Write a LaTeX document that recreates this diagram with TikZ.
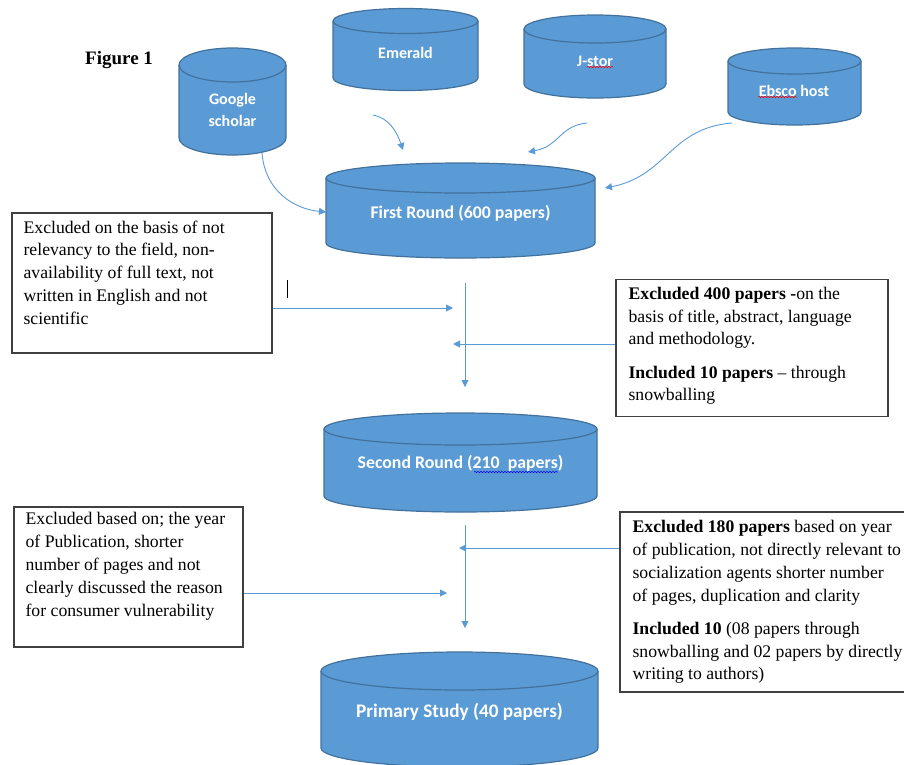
\documentclass[tikz,border=0pt]{standalone}
\usepackage{fontspec}
\setmainfont{Liberation Serif}
\newfontfamily\carlito{Carlito}
\usetikzlibrary{arrows.meta,calc,decorations.pathmorphing}
\definecolor{cylfill}{HTML}{5B9BD5}
\definecolor{cylborder}{HTML}{41719C}
\definecolor{arrowblue}{HTML}{5B9BD5}
\definecolor{boxline}{HTML}{404040}
\newcommand\dbcyl[6]{%
  \path[fill=cylfill,draw=cylborder,line width=1.2pt] (#2-#5,-#3) -- (#2-#5,-#4)
    arc[start angle=180,end angle=360,x radius=#5,y radius=#6] -- (#2+#5,-#3)
    arc[start angle=0,end angle=180,x radius=#5,y radius=#6] -- cycle;
  \draw[draw=cylborder,line width=1.2pt] (#2-#5,-#3) arc[start angle=180,end angle=360,x radius=#5,y radius=#6];
  \node[cylnode,minimum width={2*(#5)},minimum height={#4-#3+2*(#6)}] (#1) at (#2,{-(#3+#4)/2}) {};
}
\begin{document}
\begin{tikzpicture}[x=1pt,y=1pt,
  cylnode/.style={inner sep=0pt,outer sep=0pt,draw=none,rectangle},
  cyltxt/.style={text=white,font=\carlito\bfseries\fontsize{16}{22}\selectfont,align=center,inner sep=0pt},
  cylbig/.style={cyltxt,font=\carlito\bfseries\fontsize{17.8}{22}\selectfont},
  boxnode/.style={draw=boxline,line width=1.2pt,fill=white,inner sep=0pt,rectangle},
  boxtxt/.style={anchor=north west,inner sep=0pt,align=left,font=\rmfamily\fontsize{17.7}{22.8}\selectfont},
  arr/.style={draw=arrowblue,line width=0.9pt,-{Triangle[length=7pt,width=7pt]}},
  spell/.style={decorate,decoration={snake,segment length=3pt,amplitude=0.7pt},line width=0.5pt}
]
\useasboundingbox (0,0) rectangle (904,-764);

% Figure label
\node[anchor=west,inner sep=0pt,font=\rmfamily\bfseries\fontsize{19}{22}\selectfont] (fig) at (85,-60) {Figure 1};

% Cylinders
\dbcyl{gs}{232.5}{65}{138}{53.5}{17}
\dbcyl{em}{405.5}{21}{78}{72.5}{12.5}
\dbcyl{js}{595}{29}{84}{71}{14}
\dbcyl{eb}{794.5}{61}{112}{66.5}{13}
\dbcyl{fr}{460.5}{178}{243}{134.5}{15}
\dbcyl{sr}{460.5}{429}{496}{136.5}{16}
\dbcyl{pr}{459.5}{671}{748}{138.5}{19}

\node[cyltxt] (gst) at (232.5,-110) {Google\\scholar};
\node[cyltxt] (emt) at (405.5,-53) {Emerald};
\node[cyltxt] (jst) at (595,-61) {J-stor};
\node[cyltxt] (ebt) at (794,-91) {Ebsco host};
\node[cylbig] (frt) at (460.5,-213) {First Round (600 papers)};
\node[cylbig] (srt) at (460.5,-463) {Second Round (210\ \ papers)};
\node[cyltxt,font=\carlito\bfseries\fontsize{19.2}{22}\selectfont] (prt) at (459.5,-712) {Primary Study (40 papers)};

% spell-check underlines
\draw[spell,red] (587,-67) -- (613,-67);
\draw[spell,red] (758,-97) -- (797,-97);
\draw[spell,blue] (474,-472) -- (558,-472);

% Boxes
\node[boxnode,minimum width=260,minimum height=140] (lb1) at (142,-283) {};
\node[boxtxt] (lb1t) at ([xshift=12pt,yshift=-8pt]lb1.north west) {Excluded on the basis of not\\relevancy to the field, non-\\availability of full text, not\\written in English and not\\scientific};

\node[boxnode,minimum width=272,minimum height=137] (rb1) at (752,-348) {};
\node[boxtxt] (rb1t) at ([xshift=13pt,yshift=-8pt]rb1.north west) {\textbf{Excluded 400 papers -}on the\\basis of title, abstract, language\\and methodology.\\[10.3pt]\textbf{Included 10 papers} -- through\\snowballing};

\node[boxnode,minimum width=229,minimum height=140] (lb2) at (128.5,-577) {};
\node[boxtxt] (lb2t) at ([xshift=12pt,yshift=-6pt]lb2.north west) {Excluded based on; the year\\of Publication, shorter\\number of pages and not\\clearly discussed the reason\\for consumer vulnerability};

\node[boxnode,minimum width=288,minimum height=180] (rb2) at (764,-602) {};
\node[boxtxt] (rb2t) at ([xshift=13pt,yshift=-9pt]rb2.north west) {\textbf{Excluded 180 papers} based on year\\of publication, not directly relevant to\\socialization agents shorter number\\of pages, duplication and clarity\\[10.3pt]\textbf{Included 10} (08 papers through\\snowballing and 02 papers by directly\\writing to authors)};

% text cursor artifact
\draw[black,line width=0.9pt] (287,-280) -- (287,-298);

% Database arrows into First Round
\draw[arr] ([xshift=29.5pt,yshift=2pt]gs.south) .. controls +(3,-38) and +(-32,3) .. ([yshift=-1.5pt]fr.west);
\coordinate (emS) at ([xshift=-32.5pt,yshift=-24.5pt]em.south);
\draw[arr] (emS) .. controls +(16,-3) and +(-6,18) .. ([xshift=-57.5pt,yshift=13pt]fr.north);
\coordinate (jsS) at ([xshift=-8pt,yshift=-25pt]js.south);
\draw[arr] (jsS) .. controls +(-28,-3) and +(32,6) .. ([xshift=67.5pt,yshift=11pt]fr.north);
\coordinate (ebS) at ([xshift=-62.5pt,yshift=2pt]eb.south);
\draw[arr] (ebS) .. controls +(-62,-5) and +(62,12) .. ([xshift=10pt,yshift=22.5pt]fr.east);

% Stage 1 flow
\coordinate (v1a) at ([xshift=4.5pt,yshift=-25pt]fr.south);
\draw[arr] (v1a) -- ([xshift=4.5pt,yshift=26pt]sr.north);
\coordinate (l1s) at ([yshift=-25pt]lb1.east);
\draw[arr] (l1s) -- ($(l1s -| v1a)+(-12,0)$);
\coordinate (r1s) at ([yshift=4pt]rb1.west);
\draw[arr] (r1s) -- ($(r1s -| v1a)+(-12,0)$);

% Stage 2 flow
\coordinate (v2a) at ([xshift=4.5pt,yshift=-13pt]sr.south);
\draw[arr] (v2a) -- ([xshift=5.5pt,yshift=24pt]pr.north);
\coordinate (r2s) at ([yshift=54pt]rb2.west);
\draw[arr] (r2s) -- ($(r2s -| v2a)+(-6,0)$);
\coordinate (l2s) at ([yshift=-16pt]lb2.east);
\draw[arr] (l2s) -- ($(l2s -| v2a)+(-18,0)$);
\end{tikzpicture}
\end{document}
